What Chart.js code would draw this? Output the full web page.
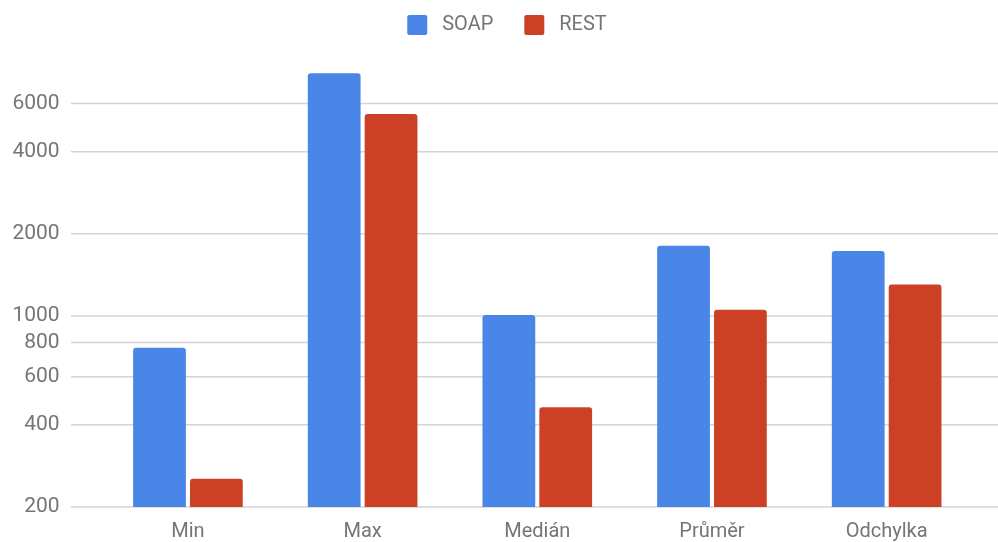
<!DOCTYPE html>
<html>
<head>
<meta charset="utf-8">
<script src="https://cdn.jsdelivr.net/npm/chart.js@4"></script>
<style>
  html, body { margin: 0; padding: 0; background: #ffffff; }
  #wrap { width: 998px; height: 542px; }
</style>
</head>
<body>
<div id="wrap"><canvas id="chart" width="998" height="542"></canvas></div>
<script>
// Response times per statistic, SOAP vs REST (log scale)
const categories = ['Min', 'Max', 'Medián', 'Průměr', 'Odchylka'];
const soapValues = [765, 7740, 1010, 1810, 1730];
const restValues = [254, 5500, 464, 1055, 1305];
const yTickValues = [200, 400, 600, 800, 1000, 2000, 4000, 6000];

const TEXT = '#757575';
const GRID = '#d4d4d4';

// Horizontal guide lines spanning the full width, placed through the y scale
const wideGrid = {
  id: 'wideGrid',
  afterLayout(chart) {
    // nudge the legend row a little to the right
    chart.legend.left += 5;
  },
  beforeDatasetsDraw(chart) {
    const y = chart.scales.y;
    const ctx = chart.ctx;
    ctx.save();
    ctx.strokeStyle = GRID;
    ctx.lineWidth = 1.5;
    y.ticks.forEach(t => {
      const py = y.getPixelForValue(t.value);
      ctx.beginPath();
      ctx.moveTo(71, py);
      ctx.lineTo(chart.width, py);
      ctx.stroke();
    });
    ctx.restore();
  }
};

new Chart(document.getElementById('chart'), {
  type: 'bar',
  data: {
    labels: categories,
    datasets: [
      { label: 'SOAP', data: soapValues, backgroundColor: '#4a86e8', borderWidth: 0, borderRadius: 3, borderSkipped: 'bottom' },
      { label: 'REST', data: restValues, backgroundColor: '#cc4125', borderWidth: 0, borderRadius: 3, borderSkipped: 'bottom' }
    ]
  },
  options: {
    responsive: false,
    animation: false,
    devicePixelRatio: 1,
    layout: { padding: { left: 11, right: 0, top: -16, bottom: 0 } },
    datasets: { bar: { categoryPercentage: 0.651, barPercentage: 0.928 } },
    plugins: {
      legend: {
        position: 'top',
        labels: {
          font: { family: 'Roboto', size: 20 },
          color: TEXT,
          boxWidth: 20,
          boxHeight: 20,
          padding: 31,
          generateLabels(chart) {
            return chart.data.datasets.map((ds, i) => ({
              text: ' ' + ds.label,
              fillStyle: ds.backgroundColor,
              strokeStyle: ds.backgroundColor,
              lineWidth: 0,
              borderRadius: 2,
              fontColor: TEXT,
              hidden: !chart.isDatasetVisible(i),
              datasetIndex: i
            }));
          }
        }
      },
      tooltip: { enabled: false }
    },
    scales: {
      x: {
        grid: { display: false, drawTicks: false },
        border: { display: false },
        afterFit(scale) { scale.height = 35; },
        ticks: { font: { family: 'Roboto', size: 20 }, color: TEXT, padding: 13 }
      },
      y: {
        type: 'logarithmic',
        min: 200,
        max: 9830,
        grid: { display: false, drawTicks: true, tickLength: 41 },
        border: { display: false },
        afterBuildTicks(scale) {
          scale.ticks = yTickValues.map(v => ({ value: v }));
        },
        afterFit(scale) { scale.width = 89.6; },
        ticks: {
          font: { family: 'Roboto', size: 21 },
          color: TEXT,
          padding: 0,
          autoSkip: false,
          callback: v => String(v)
        }
      },
      // empty right-hand margin column
      yRight: {
        type: 'linear',
        position: 'right',
        grid: { display: false, drawTicks: false },
        border: { display: false },
        ticks: { display: false },
        afterFit(scale) { scale.width = 24; }
      }
    }
  },
  plugins: [wideGrid]
});
</script>
</body>
</html>
